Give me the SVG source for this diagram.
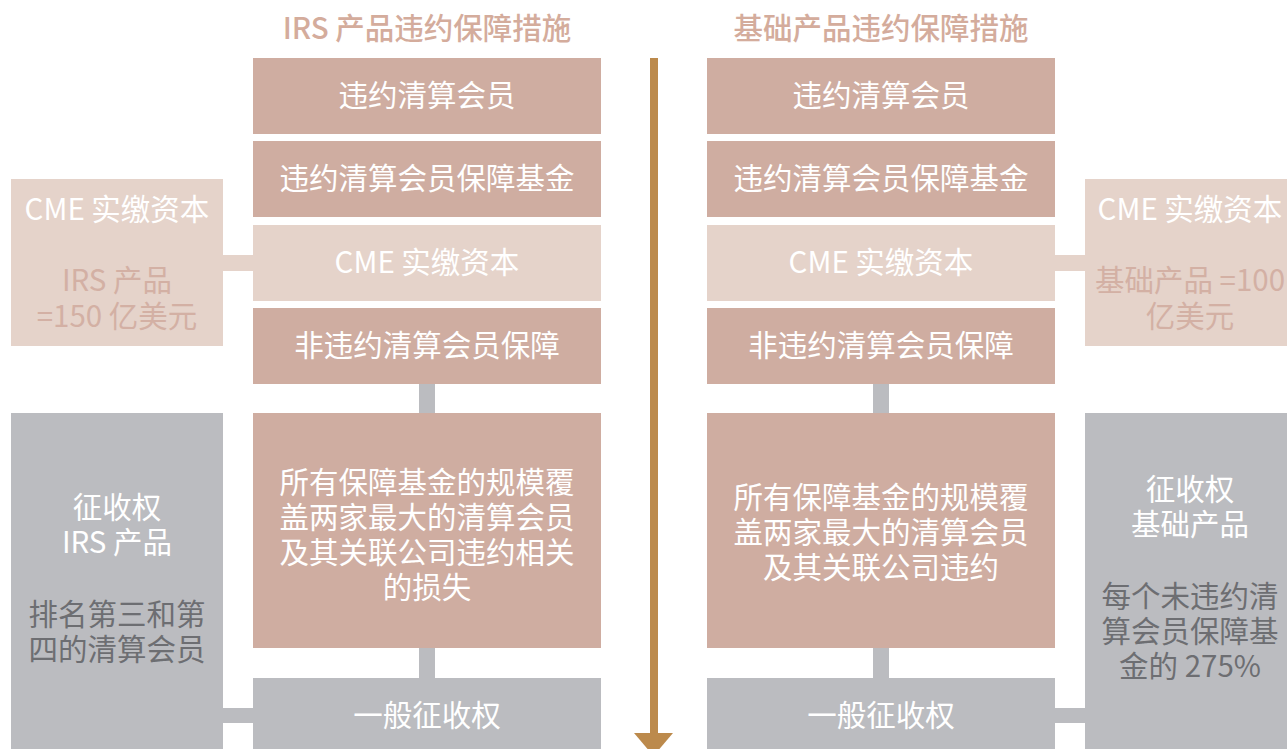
<svg xmlns="http://www.w3.org/2000/svg" width="1287" height="749" viewBox="0 0 1287 749">
<style>
text{font-family:"Noto Sans CJK SC","Noto Sans",sans-serif;font-size:29.5px;text-anchor:middle}
.dk{fill:#CFADA1}
.lt{fill:#E5D3CA}
.gy{fill:#BBBCC0}
.w{fill:#FFFFFF}
.pt{fill:#D3B0A4}
.gt{fill:#6D6E72}
.title{fill:#D4AC9C;font-weight:500}
</style>
<rect width="1287" height="749" fill="#FFFFFF"/>
<g id="connectors">
<rect class="lt" x="223" y="255" width="30" height="16"/>
<rect class="lt" x="1055" y="255" width="30" height="16"/>
<rect class="gy" x="419" y="384" width="16" height="29"/>
<rect class="gy" x="873" y="384" width="16" height="29"/>
<rect class="gy" x="419" y="648" width="16" height="30"/>
<rect class="gy" x="873" y="648" width="16" height="30"/>
<rect class="gy" x="223" y="708" width="30" height="15"/>
<rect class="gy" x="1055" y="708" width="30" height="15"/>
<g id="arrow">
<rect x="650" y="58" width="8" height="676" fill="#BC8A4C"/>
<polygon points="634,733 673,733 653.5,756" fill="#BC8A4C"/>
</g>
</g>
<text class="title" x="427" y="39">IRS 产品违约保障措施</text>
<text class="title" x="881" y="39">基础产品违约保障措施</text>
<g id="l1"><rect class="dk" x="253" y="58" width="348" height="76"/><text class="w" x="427" y="106">违约清算会员</text></g>
<g id="l2"><rect class="dk" x="253" y="141" width="348" height="76"/><text class="w" x="427" y="189">违约清算会员保障基金</text></g>
<g id="l3"><rect class="lt" x="253" y="225" width="348" height="76"/><text class="w" x="427" y="273">CME 实缴资本</text></g>
<g id="l4"><rect class="dk" x="253" y="308" width="348" height="76"/><text class="w" x="427" y="356">非违约清算会员保障</text></g>
<g id="l5"><rect class="dk" x="253" y="413" width="348" height="235"/>
<text class="w" x="427"><tspan x="427" y="493">所有保障基金的规模覆</tspan><tspan x="427" y="528">盖两家最大的清算会员</tspan><tspan x="427" y="563">及其关联公司违约相关</tspan><tspan x="427" y="598">的损失</tspan></text></g>
<g id="l6"><rect class="gy" x="253" y="678" width="348" height="80"/><text class="w" x="427" y="726">一般征收权</text></g>
<g id="r1"><rect class="dk" x="707" y="58" width="348" height="76"/><text class="w" x="881" y="106">违约清算会员</text></g>
<g id="r2"><rect class="dk" x="707" y="141" width="348" height="76"/><text class="w" x="881" y="189">违约清算会员保障基金</text></g>
<g id="r3"><rect class="lt" x="707" y="225" width="348" height="76"/><text class="w" x="881" y="273">CME 实缴资本</text></g>
<g id="r4"><rect class="dk" x="707" y="308" width="348" height="76"/><text class="w" x="881" y="356">非违约清算会员保障</text></g>
<g id="r5"><rect class="dk" x="707" y="413" width="348" height="235"/>
<text class="w" x="881"><tspan x="881" y="508">所有保障基金的规模覆</tspan><tspan x="881" y="543">盖两家最大的清算会员</tspan><tspan x="881" y="578">及其关联公司违约</tspan></text></g>
<g id="r6"><rect class="gy" x="707" y="678" width="348" height="80"/><text class="w" x="881" y="726">一般征收权</text></g>
<g id="sl1"><rect class="lt" x="11" y="179" width="212" height="167"/>
<text class="w" x="117" y="220">CME 实缴资本</text>
<text class="pt" x="117"><tspan x="117" y="291">IRS 产品</tspan><tspan x="117" y="327">=150 亿美元</tspan></text></g>
<g id="sr1"><rect class="lt" x="1085" y="179" width="212" height="167"/>
<text class="w" x="1190" y="220">CME 实缴资本</text>
<text class="pt" x="1190"><tspan x="1190" y="291">基础产品 =100</tspan><tspan x="1190" y="327">亿美元</tspan></text></g>
<g id="sl2"><rect class="gy" x="11" y="413" width="212" height="345"/>
<text class="w" x="117"><tspan x="117" y="518">征收权</tspan><tspan x="117" y="553">IRS 产品</tspan></text>
<text class="gt" x="117"><tspan x="117" y="625">排名第三和第</tspan><tspan x="117" y="660">四的清算会员</tspan></text></g>
<g id="sr2"><rect class="gy" x="1085" y="413" width="212" height="345"/>
<text class="w" x="1190"><tspan x="1190" y="500">征收权</tspan><tspan x="1190" y="535">基础产品</tspan></text>
<text class="gt" x="1190"><tspan x="1190" y="607">每个未违约清</tspan><tspan x="1190" y="642">算会员保障基</tspan><tspan x="1190" y="677">金的 275%</tspan></text></g>
</svg>
